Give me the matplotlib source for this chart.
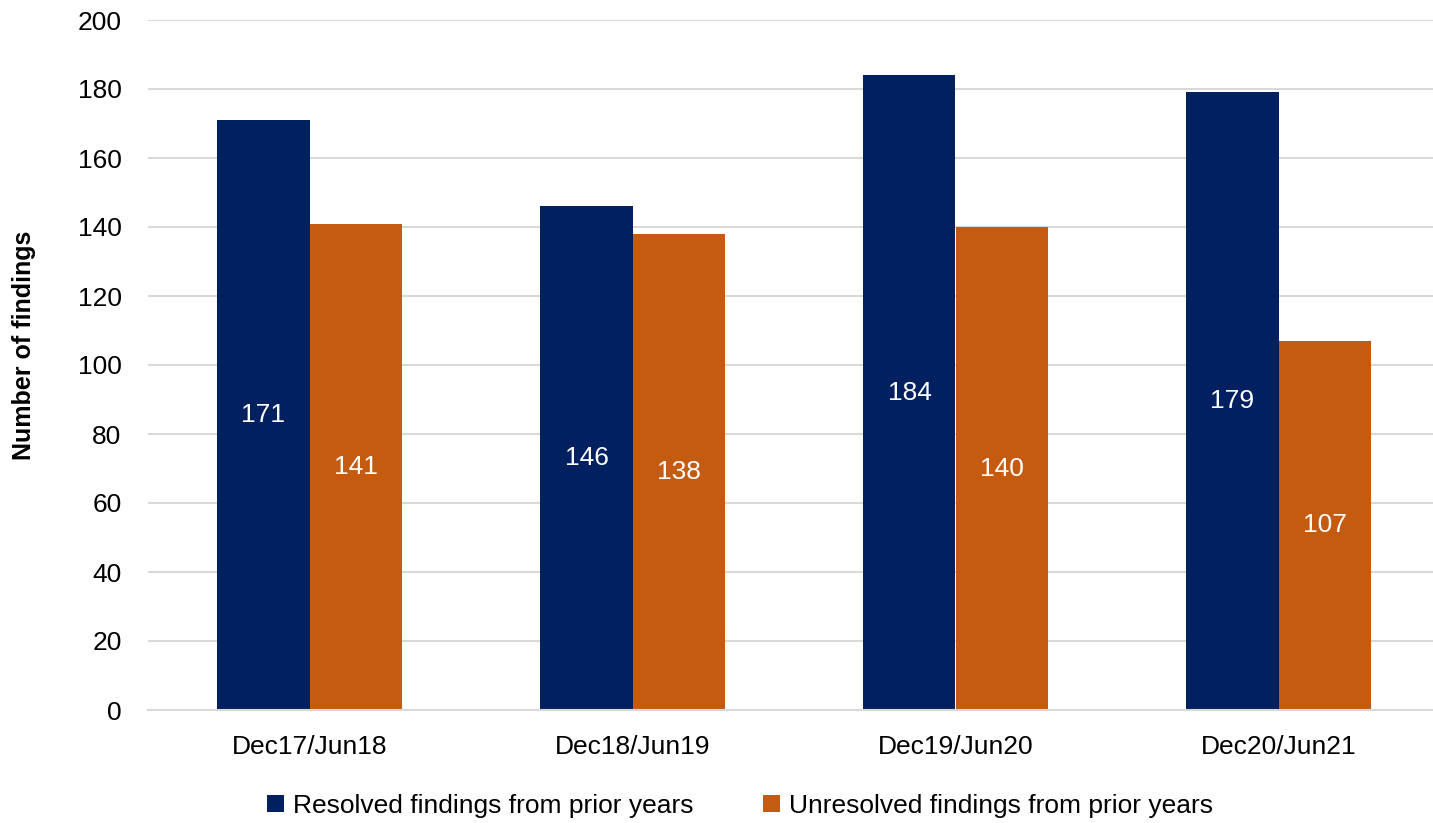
import matplotlib.pyplot as plt
import numpy as np

periods = ["Dec17/Jun18", "Dec18/Jun19", "Dec19/Jun20", "Dec20/Jun21"]
resolved = [171, 146, 184, 179]
unresolved = [141, 138, 140, 107]

navy = '#002060'
orange = '#C55A11'

plt.rcParams['font.family'] = ['Liberation Sans', 'DejaVu Sans']

fig = plt.figure(figsize=(14.33, 8.23), dpi=100)
ax = fig.add_axes([148 / 1433, 113 / 823, 1292 / 1433, 690 / 823])

x = np.arange(len(periods))
w = 0.285
b1 = ax.bar(x - w / 2, resolved, w, color=navy, label='Resolved findings from prior years')
b2 = ax.bar(x + w / 2, unresolved, w, color=orange, label='Unresolved findings from prior years')

# value labels sit in the middle of each bar
for bars, vals in ((b1, resolved), (b2, unresolved)):
    for rect, v in zip(bars, vals):
        ax.text(rect.get_x() + rect.get_width() / 2, v / 2, str(v),
                ha='center', va='center', color='white', fontsize=19)

ax.set_xlim(-0.5, 3.5)
ax.set_ylim(0, 200)
ax.set_yticks(range(0, 201, 20))
ax.set_xticks(x)
ax.set_xticklabels(periods)
ax.tick_params(axis='both', length=0, labelsize=19, colors='black')
ax.tick_params(axis='y', pad=19)
ax.tick_params(axis='x', pad=18)
ax.yaxis.grid(True, color='#d9d9d9', linewidth=1.5)
ax.set_axisbelow(True)
for s in ('top', 'right', 'left'):
    ax.spines[s].set_visible(False)
ax.spines['bottom'].set_color('#d9d9d9')
ax.spines['bottom'].set_linewidth(1.5)

fig.text(24 / 1433, 1 - 345 / 823, 'Number of findings', rotation=90,
         ha='center', va='center', fontsize=18, fontweight='bold')

fig.legend(loc='center', bbox_to_anchor=(740 / 1433, 1 - 806 / 823), ncol=2,
           frameon=False, fontsize=19, handlelength=0.62, handleheight=0.62,
           handletextpad=0.35, columnspacing=2.65)

plt.savefig('out.png', dpi=100)
